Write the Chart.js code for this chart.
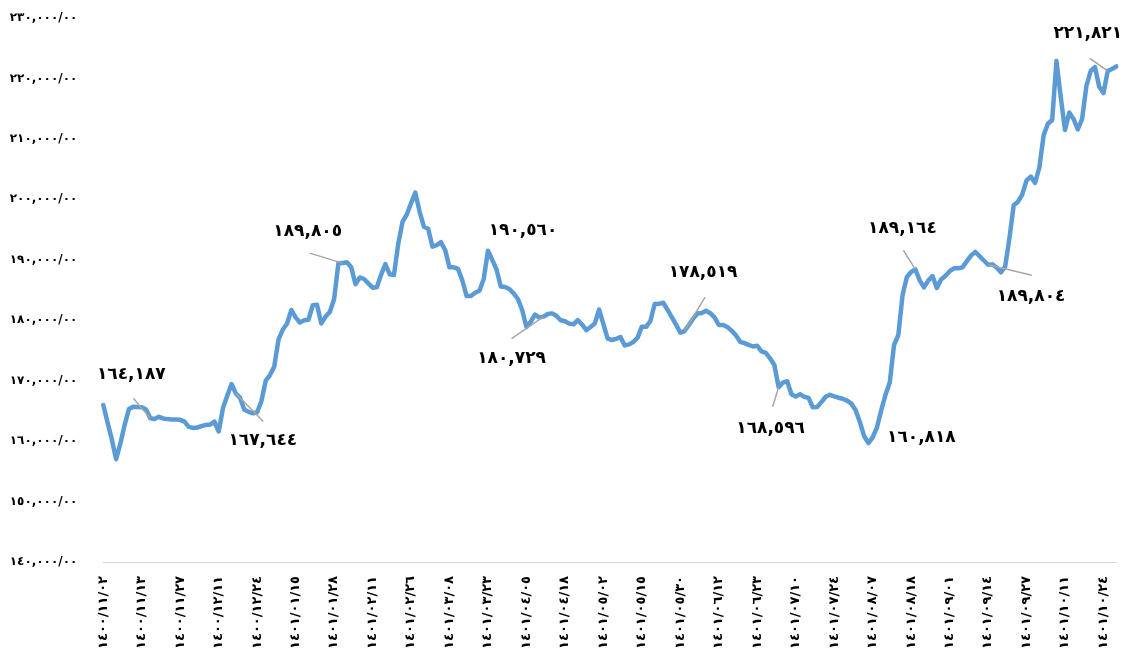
<!DOCTYPE html>
<html><head><meta charset="utf-8">
<script src="https://cdn.jsdelivr.net/npm/chart.js@4/dist/chart.umd.min.js"></script>
<style>html,body{margin:0;padding:0;background:#fff}canvas{display:block}</style>
</head><body>
<canvas id="c" width="1124" height="671"></canvas>
<script>
// ---- data ----
const tickLabels = ['١٤٠٠/١١/٠٢','١٤٠٠/١١/١٣','١٤٠٠/١١/٢٧','١٤٠٠/١٢/١١','١٤٠٠/١٢/٢٤','١٤٠١/٠١/١٥','١٤٠١/٠١/٢٨','١٤٠١/٠٢/١١','١٤٠١/٠٢/٢٦','١٤٠١/٠٣/٠٨','١٤٠١/٠٣/٢٣','١٤٠١/٠٤/٠٥','١٤٠١/٠٤/١٨','١٤٠١/٠٥/٠٢','١٤٠١/٠٥/١٥','١٤٠١/٠٥/٣٠','١٤٠١/٠٦/١٢','١٤٠١/٠٦/٢٣','١٤٠١/٠٧/١٠','١٤٠١/٠٧/٢٤','١٤٠١/٠٨/٠٧','١٤٠١/٠٨/١٨','١٤٠١/٠٩/٠١','١٤٠١/٠٩/١٤','١٤٠١/٠٩/٢٧','١٤٠١/١٠/١١','١٤٠١/١٠/٢٤'];
const tickEvery = 9;
const values = [
165970,163090,160280,157000,159620,162690,165310,165690,165640,165610,
165240,163770,163660,164020,163750,163640,163590,163560,163520,163220,
162360,162180,162250,162480,162680,162740,163210,161590,165470,167510,
169440,167890,167150,165180,164850,164600,164770,166630,169990,170930,
172360,176820,178460,179450,181690,180470,179620,179980,180080,182470,
182570,179450,180600,181370,183510,189420,189450,189580,188760,185960,
187070,186820,186110,185390,185460,187550,189270,187600,187480,192610,
196280,197490,199340,201100,197970,195470,195140,192180,192430,192910,
191580,188750,188750,188490,186570,183990,184000,184550,184880,186830,
191500,189990,188390,185580,185490,185160,184450,183510,181690,178880,
179750,180940,180440,180590,181030,181130,180730,180000,179830,179440,
179320,180020,179300,178350,178890,179470,181770,179370,176960,176730,
176910,177220,175830,176000,176390,177120,178930,178910,179870,182680,
182710,182890,181740,180530,179270,177950,178210,179200,180270,181110,
181180,181560,181160,180470,179210,179210,178880,178280,177500,176430,
176200,175930,175650,175780,174840,174610,173700,172590,168920,169690,
169900,167760,167360,167770,167330,167160,165590,165640,166450,167340,
167660,167410,167180,167000,166700,166200,165160,163160,160840,159680,
160630,162250,165090,167660,169710,175900,177550,184170,187150,187990,
188400,186600,185440,186550,187310,185330,186740,187330,188120,188590,
188590,188750,189730,190690,191300,190590,189880,189180,189240,188720,
187930,188870,193600,199010,199610,200800,203130,203770,202720,205270,
210630,212500,213120,222890,216930,211470,214370,213310,211550,213290,
218750,221230,221890,218630,217590,221250,221560,221980];
const annIndex = [11, 31, 56, 90, 103, 136, 158, 179, 190, 207, 235];
const annText = ['١٦٤,١٨٧','١٦٧,٦٤٤','١٨٩,٨٠٥','١٩٠,٥٦٠','١٨٠,٧٢٩','١٧٨,٥١٩','١٦٨,٥٩٦','١٦٠,٨١٨','١٨٩,١٦٤','١٨٩,٨٠٤','٢٢١,٨٢١'];
const yMin = 140000, yMax = 230000, yStep = 10000;

// ---- layout of annotations (label offset dx,dy ; leader end lx,ly) ----
const annLayout = [
  [-19,-44,-17,-20],[27,47,27.5,28],[-35,-32,-33,-10],[35,-20,null,null],
  [-32,42,-32,22],[18.5,-58,20.5,-34],[-8,41,-6,19.5],[53,-5,null,null],
  [-13,-41,-12,-19],[43,32,43.7,10.6],[-20,-37,-18,-12.6]
];

const AR = '٠١٢٣٤٥٦٧٨٩';
const toAr = s => String(s).replace(/[0-9]/g, d => AR[+d]);
const labels = values.map((_, i) => i % tickEvery === 0 ? tickLabels[i / tickEvery] : '');

const annPlugin = {
  id: 'ann',
  afterDatasetsDraw(chart) {
    const ctx = chart.ctx;
    const meta = chart.getDatasetMeta(0);
    ctx.save();
    annIndex.forEach((idx, k) => {
      const p = meta.data[idx];
      const [dx, dy, lx, ly] = annLayout[k];
      if (lx !== null) {
        ctx.strokeStyle = '#A6A6A6';
        ctx.lineWidth = 1.5;
        ctx.beginPath();
        ctx.moveTo(p.x, p.y);
        ctx.lineTo(p.x + lx, p.y + ly);
        ctx.stroke();
      }
      ctx.fillStyle = '#000';
      ctx.font = 'bold 17px "DejaVu Sans"';
      ctx.textAlign = 'center';
      ctx.textBaseline = 'middle';
      ctx.fillText(annText[k], p.x + dx, p.y + dy);
    });
    ctx.restore();
  }
};

new Chart(document.getElementById('c'), {
  type: 'line',
  data: {
    labels: labels,
    datasets: [{
      data: values,
      borderColor: '#5B9BD5',
      borderWidth: 4.5,
      pointRadius: 0,
      tension: 0,
      borderJoinStyle: 'round',
      borderCapStyle: 'round',
      fill: false
    }]
  },
  options: {
    responsive: false,
    animation: false,
    devicePixelRatio: 1,
    layout: { padding: { top: 18, right: 7.7, left: 0, bottom: 0 } },
    plugins: { legend: { display: false }, tooltip: { enabled: false } },
    scales: {
      x: {
        type: 'category',
        offset: false,
        grid: { display: false, drawTicks: false },
        border: { display: true, color: '#D9D9D9', width: 1 },
        ticks: {
          autoSkip: false, maxRotation: 90, minRotation: 90, padding: 14,
          color: '#000', font: { family: 'DejaVu Sans', weight: 'bold', size: 13 }
        },
        afterFit: s => { s.height = 109; s.paddingLeft = 0; s.paddingRight = 0; }
      },
      y: {
        min: yMin, max: yMax,
        grid: { display: false, drawTicks: false },
        border: { display: false },
        ticks: {
          stepSize: yStep, padding: 26, color: '#000',
          font: { family: 'DejaVu Sans', weight: 'bold', size: 12 },
          callback: v => toAr(Number(v).toLocaleString('en-US')) + '/٠٠'
        },
        afterFit: s => { s.width = 103.3; s.paddingTop = 0; s.paddingBottom = 0; }
      }
    }
  },
  plugins: [annPlugin]
});
</script>
</body></html>
